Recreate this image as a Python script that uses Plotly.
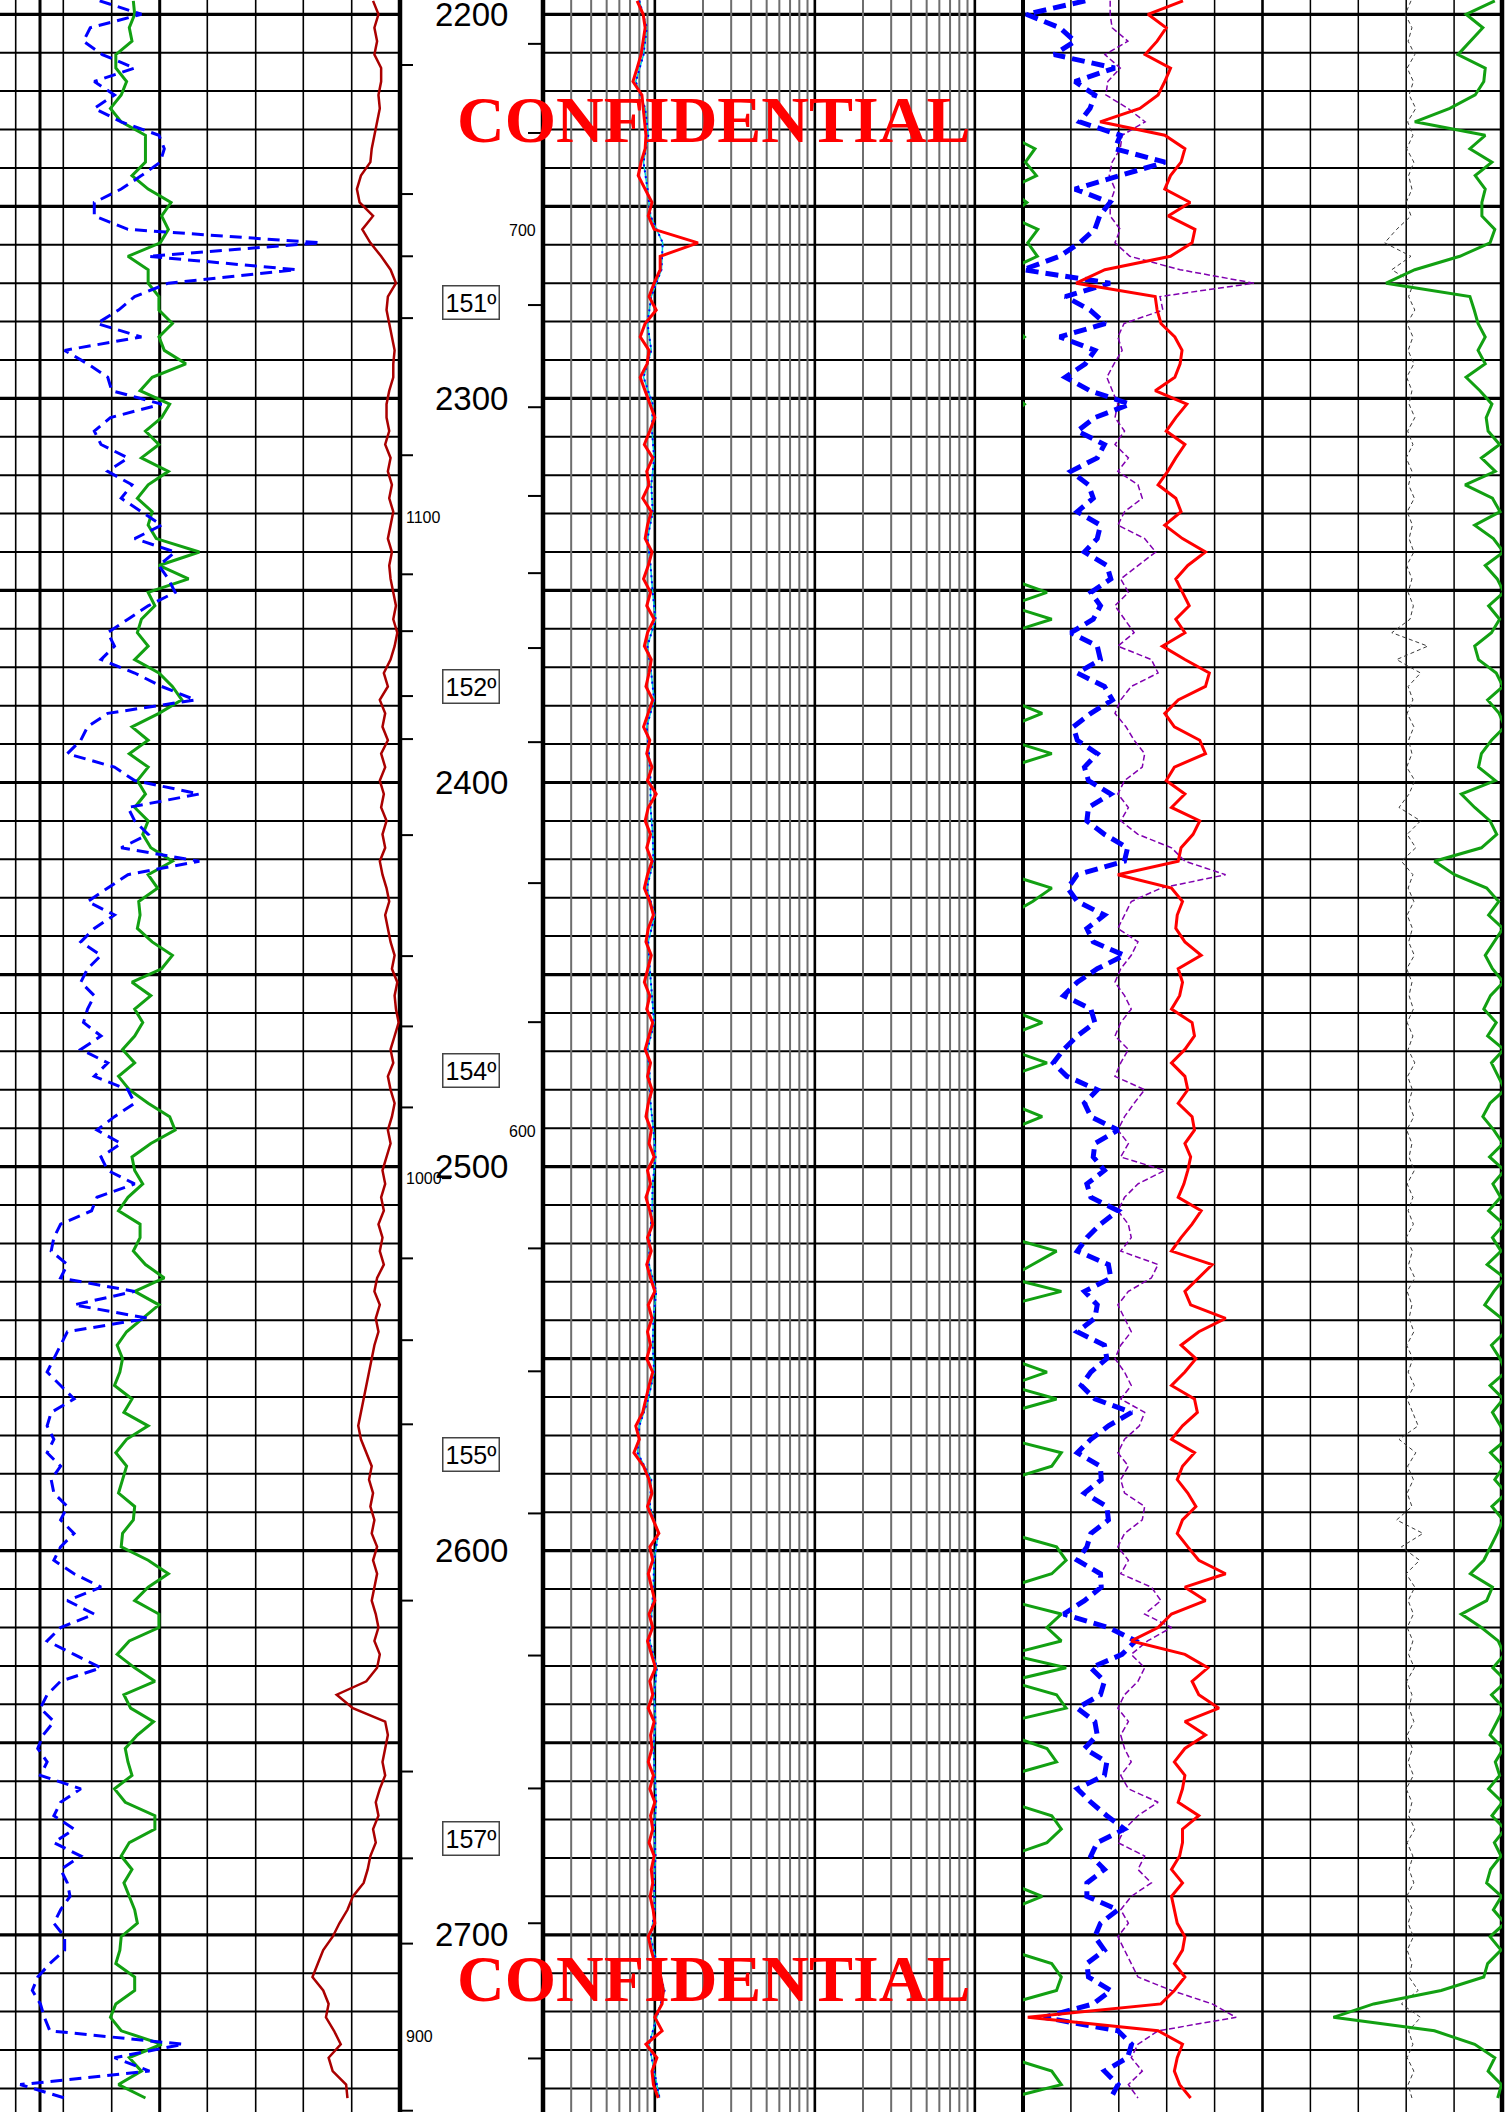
import math
import plotly.graph_objects as go

W, H = 1507, 2112
TOP_DEPTH, BOTTOM_DEPTH = 2196.28, 2746.14

# ---------------- curve data ----------------
# logs sampled every 3.5 m from 2196.5 m; the medium resistivity every 7 m
depth = [round(2196.5 + 3.5 * k, 1) for k in range(157)]
depth_med = [round(2196.5 + 7.0 * k, 1) for k in range(79)]

# track 1: gamma ray (API), SP (mV), caliper (in)
gr = [49.5, 50, 48, 49, 43, 43, 47, 45, 41, 45,
      54, 54, 54, 49, 55, 63.5, 60, 62.5, 59.5, 47.5,
      55, 55, 59, 59, 64, 59, 61, 69, 56.5, 52,
      63, 60, 54, 59, 52.5, 62.5, 55, 51, 56.5, 55,
      58, 74, 59, 70, 55, 57.5, 52.5, 51, 55, 50,
      59, 64, 67.5, 59, 49, 55, 48, 55, 51, 54,
      50, 55, 53, 56, 64, 55, 58.5, 51.5, 52, 51,
      56.5, 64, 60, 49, 56, 50, 53, 50, 45.5, 50,
      44, 48, 55, 63, 65, 56, 49, 50, 53, 47.5,
      44, 52, 52, 49.5, 54, 61, 50, 59, 53, 47,
      43.5, 45.5, 44.5, 42.5, 49, 46, 55, 47, 43, 47,
      45.5, 44, 50, 49.5, 45.5, 45, 55, 62.5, 55, 50,
      59, 59, 48, 43.5, 50, 57.5, 46, 48.5, 57, 51,
      46.5, 47.5, 49, 42.5, 46.5, 57.5, 57.5, 48, 45, 49,
      46, 48, 50, 51, 45, 44.5, 43, 50, 50, 43,
      41, 45, 60, 48, 52.5, 44, 54]

sp = [-63, -47.5, -66.5, -69, -62, -50, -65, -57.5, -65, -55,
      -41, -39, -40.5, -47.5, -55, -65, -65, -52.5, 19, -45,
      10, -37.5, -50, -56, -64, -47.5, -76, -67.5, -60, -58.5,
      -40, -59, -65, -62.5, -52.5, -60, -51, -55, -47.5, -40,
      -50, -35, -41, -37.5, -35, -45, -52.5, -60, -57.5, -62.5,
      -50, -40, -27.5, -60, -67.5, -70, -75, -57.5, -50, -26,
      -52.5, -50, -45, -55, -26, -52.5, -60, -67.5, -57.5, -65,
      -70, -62.5, -67.5, -70, -65, -67.5, -69, -62.5, -70, -60,
      -65, -52.5, -50, -57.5, -64, -55, -62.5, -60, -50, -64,
      -66, -77.5, -80, -81, -75, -77.5, -50, -72.5, -45, -75,
      -77.5, -80, -82.5, -77.5, -72.5, -81, -82.5, -80, -82.5, -77.5,
      -81, -80, -75, -77.5, -72.5, -77.5, -80, -72.5, -62.5, -75,
      -65, -77.5, -82.5, -72.5, -62.5, -77.5, -82.5, -85, -80, -84,
      -86, -82.5, -85, -70, -77.5, -80, -72.5, -80, -70, -77.5,
      -75, -74, -77.5, -80, -76, -76, -81.5, -86, -88, -85,
      -83.5, -81.5, -32, -57.5, -44.5, -92.5, -76]

cali = [27.7, 28.1, 27.8, 28.0, 27.8, 28.3, 28.3, 28.1, 28.2, 28.0,
        27.8, 27.6, 27.5, 26.8, 26.5, 26.7, 27.7, 26.9, 27.5, 28.3,
        29.0, 29.4, 28.8, 28.7, 28.9, 29.1, 29.3, 29.2, 29.2, 28.9,
        28.7, 28.7, 28.9, 28.6, 29.0, 28.8, 29.1, 28.9, 29.2, 29.0,
        28.8, 29.1, 28.9, 29.0, 29.2, 29.4, 29.2, 29.5, 29.3, 29.0,
        28.5, 28.8, 28.2, 28.6, 28.4, 28.8, 28.3, 28.6, 28.2, 28.5,
        28.3, 28.7, 28.4, 28.6, 28.2, 28.4, 28.7, 28.9, 28.6, 28.8,
        29.0, 29.3, 29.1, 29.5, 29.3, 29.4, 29.6, 29.3, 29.0, 29.2,
        28.8, 29.0, 29.3, 29.1, 28.8, 29.0, 28.7, 28.4, 28.6, 28.3,
        28.5, 28.1, 28.4, 28.2, 28.5, 28.0, 27.8, 28.2, 27.9, 28.1,
        27.8, 27.6, 27.4, 27.2, 27.0, 26.8, 26.6, 26.8, 27.2, 27.6,
        27.4, 27.7, 27.5, 27.8, 27.6, 28.0, 27.7, 28.0, 27.8, 27.6,
        27.9, 28.1, 27.8, 28.2, 28.0, 27.2, 25.0, 26.2, 28.6, 28.8,
        28.6, 28.4, 28.6, 28.2, 27.9, 28.1, 27.7, 27.9, 27.5, 27.3,
        27.0, 26.2, 25.8, 25.2, 24.7, 24.0, 23.6, 23.2, 24.0, 24.4,
        24.2, 24.8, 25.3, 24.4, 24.7, 25.7, 25.8]

# track 2: resistivity (ohm.m)
res_deep = [0.775, 0.845, 0.87, 0.845, 0.82, 0.775, 0.73, 0.83, 0.845, 0.857,
            0.88, 0.87, 0.82, 0.787, 0.87, 0.96, 0.91, 0.99, 1.86, 1.08,
            1.08, 0.99, 0.92, 1.02, 0.87, 0.81, 0.92, 0.895, 0.81, 0.87,
            0.935, 1.0, 0.93, 0.86, 0.97, 0.89, 0.92, 0.84, 0.95, 0.90,
            0.87, 0.96, 0.91, 0.85, 0.94, 0.89, 0.99, 0.90, 0.86, 0.95,
            0.92, 0.88, 0.97, 0.91, 0.85, 0.93, 0.89, 0.96, 0.90, 1.02,
            0.91, 0.87, 0.94, 0.89, 0.96, 0.90, 0.86, 0.93, 0.98, 0.91,
            0.88, 0.95, 0.90, 0.86, 0.93, 0.89, 0.97, 0.92, 0.87, 0.94,
            0.90, 0.96, 0.91, 0.88, 0.95, 0.92, 0.99, 0.90, 0.94, 0.88,
            0.93, 0.97, 0.90, 0.95, 0.89, 0.94, 1.00, 0.91, 0.96, 0.90,
            0.94, 0.89, 0.97, 0.92, 0.88, 0.84, 0.76, 0.80, 0.74, 0.85,
            0.92, 0.96, 0.90, 0.98, 1.06, 0.93, 0.97, 0.91, 0.95, 1.00,
            0.92, 0.97, 0.90, 0.95, 1.01, 0.93, 0.97, 0.91, 0.99, 0.94,
            0.96, 0.91, 0.98, 0.93, 1.00, 0.94, 0.97, 0.92, 0.99, 0.95,
            0.97, 0.935, 0.976, 1.0, 0.91, 0.95, 1.0, 1.09, 1.13, 1.11,
            1.0, 1.11, 0.88, 1.03, 0.96, 0.98, 1.05]

res_med = [0.80, 0.89, 0.85, 0.76, 0.87, 0.91, 0.85, 0.90, 0.94, 1.12,
           1.10, 0.95, 0.90, 0.95, 0.85, 0.97, 0.96, 0.99, 0.95, 0.97,
           0.90, 0.94, 0.97, 1.01, 0.90, 0.95, 0.99, 0.89, 0.92, 0.94,
           0.94, 0.97, 0.98, 0.89, 1.00, 0.91, 0.93, 0.96, 0.99, 0.90,
           0.93, 0.94, 0.98, 1.01, 0.97, 0.96, 0.93, 0.92, 1.02, 0.98,
           0.97, 0.99, 0.91, 0.80, 0.78, 0.95, 0.93, 1.05, 0.99, 0.98,
           0.95, 0.93, 1.03, 0.99, 1.01, 0.98, 1.00, 1.02, 0.99, 1.01,
           0.99, 1.00, 0.94, 1.03, 1.15, 1.03, 0.92, 0.99, 1.07]

# track 3: neutron (v/v), bulk density (g/cc), PEF (b/e), density correction (g/cc), spectral GR
nphi = [0.372, 0.446, 0.404, 0.385, 0.411, 0.335, 0.385, 0.360, 0.366, 0.379,
        0.328, 0.335, 0.272, 0.328, 0.385, 0.341, 0.354, 0.360, 0.379, 0.404,
        0.450, 0.341, 0.397, 0.366, 0.347, 0.404, 0.360, 0.372, 0.397, 0.366,
        0.316, 0.360, 0.382, 0.348, 0.357, 0.390, 0.368, 0.362, 0.382, 0.353,
        0.357, 0.373, 0.345, 0.340, 0.365, 0.353, 0.362, 0.390, 0.357, 0.353,
        0.382, 0.348, 0.338, 0.365, 0.387, 0.382, 0.357, 0.373, 0.368, 0.340,
        0.368, 0.370, 0.348, 0.319, 0.323, 0.382, 0.394, 0.382, 0.348, 0.370,
        0.362, 0.323, 0.357, 0.382, 0.399, 0.365, 0.360, 0.382, 0.399, 0.412,
        0.395, 0.357, 0.373, 0.365, 0.331, 0.360, 0.362, 0.348, 0.370, 0.365,
        0.331, 0.353, 0.370, 0.382, 0.343, 0.340, 0.373, 0.357, 0.360, 0.382,
        0.348, 0.345, 0.365, 0.377, 0.360, 0.314, 0.343, 0.365, 0.382, 0.353,
        0.352, 0.373, 0.345, 0.343, 0.365, 0.370, 0.382, 0.353, 0.352, 0.373,
        0.399, 0.343, 0.309, 0.326, 0.365, 0.348, 0.353, 0.382, 0.360, 0.357,
        0.373, 0.345, 0.348, 0.382, 0.365, 0.345, 0.323, 0.357, 0.365, 0.348,
        0.370, 0.370, 0.331, 0.353, 0.360, 0.348, 0.370, 0.368, 0.340, 0.362,
        0.424, 0.331, 0.314, 0.319, 0.348, 0.331, 0.340]

rhob = [2.284, 2.211, 2.249, 2.230, 2.205, 2.258, 2.246, 2.232, 2.194, 2.111,
        2.246, 2.288, 2.280, 2.258, 2.246, 2.299, 2.253, 2.309, 2.303, 2.258,
        2.121, 2.061, 2.226, 2.230, 2.238, 2.267, 2.282, 2.278, 2.267, 2.226,
        2.292, 2.269, 2.249, 2.288, 2.269, 2.252, 2.232, 2.269, 2.280, 2.246,
        2.283, 2.331, 2.294, 2.269, 2.283, 2.297, 2.269, 2.288, 2.241, 2.288,
        2.339, 2.331, 2.274, 2.246, 2.266, 2.319, 2.331, 2.266, 2.249, 2.288,
        2.260, 2.319, 2.305, 2.280, 2.274, 2.148, 2.260, 2.283, 2.272, 2.269,
        2.288, 2.322, 2.274, 2.283, 2.277, 2.260, 2.303, 2.308, 2.288, 2.260,
        2.288, 2.294, 2.274, 2.303, 2.308, 2.288, 2.300, 2.294, 2.286, 2.274,
        2.322, 2.303, 2.280, 2.260, 2.345, 2.317, 2.288, 2.300, 2.373, 2.317,
        2.280, 2.311, 2.288, 2.260, 2.308, 2.314, 2.283, 2.260, 2.308, 2.283,
        2.272, 2.294, 2.311, 2.283, 2.272, 2.294, 2.317, 2.373, 2.288, 2.331,
        2.260, 2.232, 2.176, 2.288, 2.336, 2.303, 2.317, 2.359, 2.288, 2.331,
        2.288, 2.266, 2.288, 2.283, 2.274, 2.317, 2.283, 2.283, 2.277, 2.260,
        2.283, 2.260, 2.266, 2.272, 2.288, 2.283, 2.266, 2.288, 2.266, 2.238,
        1.960, 2.232, 2.283, 2.272, 2.266, 2.277, 2.300]

pef = [1.82, 1.82, 1.86, 2.19, 1.71, 2.03, 1.77, 1.73, 2.19, 2.55,
       2.07, 2.03, 1.86, 1.80, 1.92, 1.82, 1.82, 2.03, 1.92, 2.23,
       3.28, 4.82, 2.86, 2.92, 2.11, 1.98, 2.07, 1.90, 1.75, 1.86,
       1.98, 1.92, 2.12, 1.92, 2.20, 1.98, 2.40, 2.49, 2.12, 1.98,
       2.54, 2.77, 2.40, 2.04, 2.20, 1.92, 2.12, 2.32, 1.98, 2.68,
       2.82, 2.26, 2.04, 1.92, 2.15, 2.32, 2.54, 2.49, 2.12, 1.98,
       2.20, 2.04, 2.40, 3.10, 3.38, 4.23, 2.88, 2.26, 2.12, 1.98,
       2.40, 2.26, 2.04, 1.92, 2.12, 2.26, 2.04, 1.92, 2.20, 2.04,
       1.92, 2.54, 2.32, 2.12, 1.98, 2.20, 2.04, 2.96, 2.40, 2.12,
       1.98, 2.20, 2.26, 2.04, 2.82, 2.68, 2.20, 1.98, 2.12, 2.26,
       2.04, 1.92, 2.12, 2.26, 2.04, 2.54, 2.43, 2.12, 1.98, 2.20,
       2.04, 2.12, 2.54, 2.49, 2.12, 1.98, 2.20, 2.04, 2.68, 2.88,
       2.54, 3.10, 2.60, 2.26, 2.54, 2.40, 2.12, 1.98, 2.20, 2.04,
       2.12, 2.26, 2.04, 2.20, 2.82, 2.40, 2.12, 1.98, 2.54, 2.40,
       2.68, 2.26, 2.04, 2.20, 1.98, 2.12, 2.26, 2.40, 3.10, 3.95,
       4.45, 2.82, 2.40, 2.26, 2.49, 2.20, 2.40]

drho = [0.010, -0.002, 0.012, 0.004, 0.018, 0.002, 0.015, 0.006, 0.020, 0.003,
        0.014, 0.001, 0.016, 0.005, 0.012, 0.000, 0.010, -0.020, -0.045, 0.010,
        -0.030, 0.015, 0.005, 0.018, 0.002, 0.014, 0.004, 0.016, 0.001, 0.012,
        0.006, 0.018, 0.003, 0.014, 0.000, 0.012, 0.005, 0.017, 0.002, 0.013,
        0.006, 0.016, 0.001, 0.012, 0.004, 0.015, 0.008, -0.030, 0.045, -0.020,
        0.030, 0.004, 0.014, 0.002, 0.016, 0.005, 0.012, 0.001, 0.018, 0.006,
        -0.015, 0.030, 0.002, 0.020, -0.010, 0.014, 0.004, 0.016, 0.002, 0.013,
        0.005, 0.017, 0.001, 0.012, 0.006, 0.015, 0.002, 0.014, 0.004, 0.018,
        0.003, 0.013, 0.005, 0.016, 0.001, 0.012, 0.006, 0.017, 0.002, 0.014,
        0.004, 0.015, 0.000, 0.013, 0.005, 0.018, 0.002, 0.012, 0.006, 0.016,
        0.001, 0.014, 0.004, 0.017, 0.002, 0.013, 0.025, -0.015, 0.020, 0.003,
        0.015, 0.002, 0.012, -0.020, 0.035, -0.010, 0.028, 0.000, 0.018, 0.004,
        0.015, 0.002, 0.014, 0.005, 0.017, 0.001, 0.012, 0.006, 0.016, 0.002,
        0.013, 0.004, 0.015, 0.000, 0.012, 0.005, 0.018, 0.002, 0.014, 0.006,
        0.016, 0.001, 0.013, 0.004, 0.015, 0.002, 0.012, 0.006, 0.025, -0.010,
        0.030, 0.005, 0.014, 0.002, 0.016, 0.004, 0.012]

sgr = [98.5, 92.5, 96.0, 93.3, 90.8, 96.5, 96.2, 94.4, 89.1, 81.8,
       96.5, 93.3, 97.9, 94.4, 96.5, 95.8, 95.8, 98.5, 97.5, 91.2,
       81.8, 75.8, 93.3, 94.2, 95.0, 96.5, 95.0, 96.5, 92.5, 95.4,
       97.9, 96.7, 97.1, 99.5, 95.7, 98.6, 92.3, 98.0, 99.6, 94.3,
       98.2, 100.3, 96.5, 99.0, 100.4, 97.2, 99.5, 97.8, 94.3, 95.1,
       98.8, 100.2, 97.0, 99.4, 100.6, 97.8, 95.7, 95.1, 98.6, 91.5,
       94.3, 97.5, 98.9, 95.7, 85.9, 90.1, 96.8, 99.3, 97.2, 100.2,
       98.4, 96.5, 98.0, 100.3, 97.6, 96.2, 98.8, 97.0, 100.4, 97.8,
       99.2, 100.6, 97.5, 96.0, 98.3, 100.2, 97.4, 100.5, 98.1, 99.7,
       97.2, 100.4, 98.0, 99.8, 96.9, 100.6, 98.3, 96.4, 99.9, 100.7,
       97.8, 99.6, 100.8, 97.5, 100.3, 98.0, 99.7, 101.0, 97.6, 100.4,
       98.5, 100.9, 97.9, 100.2, 99.0, 97.6, 96.2, 93.4, 98.0, 96.8,
       91.5, 95.7, 99.2, 100.5, 98.1, 100.9, 97.8, 100.4, 99.0, 97.5,
       100.3, 98.6, 99.5, 97.2, 100.1, 97.9, 100.6, 98.4, 99.8, 97.6,
       96.8, 99.9, 98.2, 100.6, 97.5, 99.8, 97.0, 96.2, 87.3, 73.2,
       64.8, 85.9, 94.3, 98.5, 97.1, 99.9, 99.1]

# spectral GR on its wrap-around (left) scale
sgr_wrap = [-3, -3, -3, -3, -3, -3, -3, -3, -3, -3,
            -3, 2.5, 0.5, 2.8, -3, 0.8, -3, 3.1, 1.0, 3.0,
            -3, -3, -3, -3, -3, 0.3, -3, -3, -3, -3,
            0.3, -3, -3, -3, -3, -3, -3, -3, -3, -3,
            -3, -3, -3, -3, 5, -3, 6, -3, -3, -3,
            -3, -3, -3, 4, -3, -3, 6, -3, -3, -3,
            -3, -3, -3, -3, -3, -3, 6, 2, -3, -3,
            -3, -3, -3, -3, -3, -3, 4, -3, -3, 5,
            -3, -3, -3, 4, -3, -3, -3, -3, -3, -3,
            -3, -3, -3, 7, 2, -3, 8, -3, -3, -3,
            -3, -3, 5, -3, 7, -3, -3, -3, 8, 6,
            -3, -3, -3, -3, -3, 7, 9, 6, -3, -3,
            8, 5, 8, -3, 9, -3, 7, 9, -3, -3,
            5, 7, -3, -3, -3, 6, 8, 5, -3, -3,
            -3, 4, -3, -3, -3, -3, 6, 8, 7, -3,
            -3, -3, -3, -3, 6, 8, -3]

# depth-track marks (m) and their labels
left_tick_depths = [2213.2, 2246.8, 2263.0, 2279.1, 2314.8, 2345.8, 2360.6, 2377.5,
                    2388.7, 2413.7, 2445.2, 2463.5, 2484.6, 2523.9, 2545.2, 2567.1,
                    2613.0, 2657.5, 2680.1, 2702.3, 2745.8]
right_tick_depths = [2207.7, 2230.9, 2275.7, 2302.3, 2325.4, 2345.5, 2365.0, 2389.5,
                     2426.2, 2462.4, 2521.3, 2553.3, 2590.3, 2627.3, 2661.9, 2697.0,
                     2732.2]
left_tick_labels = [("1100", 2330.9), ("1000", 2503.0), ("900", 2726.5)]
right_tick_labels = [("700", 2256.2), ("600", 2490.8)]

depth_labels = [2200, 2300, 2400, 2500, 2600, 2700]
deviation_labels = [("151º", 2275), ("152º", 2375), ("154º", 2475), ("155º", 2575), ("157º", 2675)]

# ---------------- figure ----------------
GREEN = "#12a012"
BLUE = "#0000ff"
DARKRED = "#aa0000"
RED = "#ff0000"
PURPLE = "#8000b0"

fig = go.Figure()


def curve(x, y, axis, color, width, dash=None):
    fig.add_trace(go.Scatter(x=x, y=y, xaxis=axis, yaxis="y", mode="lines",
                             line=dict(color=color, width=width, dash=dash),
                             hoverinfo="skip"))


# track 1
curve(gr, depth, "x", GREEN, 3)
curve(sp, depth, "x2", BLUE, 3, "12px,7px")
curve(cali, depth, "x3", DARKRED, 2.5)
# track 2
curve(res_med, depth_med, "x4", "#00d0d8", 1.5)
curve(res_med, depth_med, "x4", BLUE, 2, "2px,4px")
curve(res_deep, depth, "x4", RED, 3)
# track 3
curve(pef, depth, "x5", PURPLE, 1.5, "6px,3px")
curve(drho, depth, "x6", "#3a3a3a", 1, "4px,3px")
curve(nphi, depth, "x7", BLUE, 5, "13px,7px")
curve(rhob, depth, "x8", RED, 3)
curve(sgr, depth, "x9", GREEN, 3)
curve(sgr_wrap, depth, "x9", GREEN, 3)

T1 = [0, 400 / W]
T2 = [543 / W, 1023 / W]
T3 = [1023 / W, 1502 / W]

hidden = dict(visible=False, fixedrange=True, showgrid=False, zeroline=False)
fig.update_layout(
    width=W, height=H, margin=dict(l=0, r=0, t=0, b=0),
    paper_bgcolor="white", plot_bgcolor="rgba(0,0,0,0)", showlegend=False,
    yaxis=dict(domain=[0, 1], range=[BOTTOM_DEPTH, TOP_DEPTH], **hidden),
    xaxis=dict(domain=T1, range=[0, 148.5], **hidden),
    xaxis2=dict(domain=T1, range=[-100, 48.5], overlaying="x", **hidden),
    xaxis3=dict(domain=T1, range=[0, 29.7], overlaying="x", **hidden),
    xaxis4=dict(domain=T2, type="log", range=[math.log10(0.2), math.log10(200)], **hidden),
    xaxis5=dict(domain=T3, range=[0, 10], **hidden),
    xaxis6=dict(domain=T3, range=[-0.8, 0.2], overlaying="x5", **hidden),
    xaxis7=dict(domain=T3, range=[0.45, -0.15], overlaying="x5", **hidden),
    xaxis8=dict(domain=T3, range=[1.95, 2.95], overlaying="x5", **hidden),
    xaxis9=dict(domain=T3, range=[0, 100], overlaying="x5", **hidden),
)

shapes = []


def hline(xref, d, w, color="black"):
    shapes.append(dict(type="line", xref=xref, yref="y", x0=0, x1=1, y0=d, y1=d,
                       line=dict(color=color, width=w), layer="below"))


def vline(xref, x, w, color="black"):
    shapes.append(dict(type="line", xref=xref, yref="paper", x0=x, x1=x, y0=0, y1=1,
                       line=dict(color=color, width=w), layer="below"))


# horizontal depth grid in the three curve tracks
for d in range(2200, 2750, 10):
    w = 3.2 if d % 50 == 0 else 2
    for xr in ("x domain", "x4 domain", "x5 domain"):
        hline(xr, d, w)

# track 1 grid (fractions of the visible track width)
for f in (15.7, 63.3, 111.7, 207.3, 255.7, 303.3, 351.7):
    vline("x domain", f / 400, 1.6)
for f in (40, 159.7):
    vline("x domain", f / 400, 3)

# track 2 logarithmic grid
for dec in (0.1, 1, 10, 100):
    for k in range(2, 10):
        v = dec * k
        if 0.2 < v < 200:
            vline("x4", v, 2, "#6e6e6e")
for v in (1, 10, 100):
    vline("x4", v, 2.6)

# track 3 linear grid
for k in range(1, 10):
    vline("x5 domain", k / 10, 2.6 if k == 5 else 1.5)

# track borders
vline("x domain", 1, 4.5)
vline("x4 domain", 0, 4.5)
vline("x4 domain", 1, 4)
vline("x5 domain", 1, 4.5)

# depth-track marks
for d in left_tick_depths:
    shapes.append(dict(type="line", xref="paper", yref="y", x0=399 / W, x1=413 / W,
                       y0=d, y1=d, line=dict(color="black", width=2)))
for d in right_tick_depths:
    shapes.append(dict(type="line", xref="paper", yref="y", x0=528 / W, x1=543 / W,
                       y0=d, y1=d, line=dict(color="black", width=2)))
shapes.append(dict(type="line", xref="paper", yref="y", x0=442 / W, x1=451 / W,
                   y0=2503.0, y1=2503.0, line=dict(color="black", width=2)))

fig.update_layout(shapes=shapes)

ann = []
for d in depth_labels:
    ann.append(dict(xref="paper", yref="y", x=471 / W, y=d, text=str(d), showarrow=False,
                    font=dict(family="Liberation Sans, Arial", size=33, color="black"),
                    xanchor="center", yanchor="middle"))
for t, d in deviation_labels:
    ann.append(dict(xref="paper", yref="y", x=471 / W, y=d, text=t, showarrow=False,
                    font=dict(family="Liberation Sans, Arial", size=25, color="black"),
                    xanchor="center", yanchor="middle", bordercolor="#444444",
                    borderwidth=1.5, borderpad=2, bgcolor="white"))
for t, d in left_tick_labels:
    ann.append(dict(xref="paper", yref="y", x=404 / W, y=d, text=t, showarrow=False,
                    font=dict(family="Liberation Sans, Arial", size=16, color="black"),
                    xanchor="left", yanchor="middle"))
for t, d in right_tick_labels:
    ann.append(dict(xref="paper", yref="y", x=538 / W, y=d, text=t, showarrow=False,
                    font=dict(family="Liberation Sans, Arial", size=16, color="black"),
                    xanchor="right", yanchor="middle"))
for yc in (119, 1977):
    ann.append(dict(xref="paper", yref="paper", x=713 / W, y=1 - (yc + 1) / H,
                    text="<b>CONFIDENTIAL</b>", showarrow=False,
                    font=dict(family="Liberation Serif, Times New Roman", size=66, color="#ff0000"),
                    xanchor="center", yanchor="middle"))
fig.update_layout(annotations=ann)

fig.write_html("out.html")
